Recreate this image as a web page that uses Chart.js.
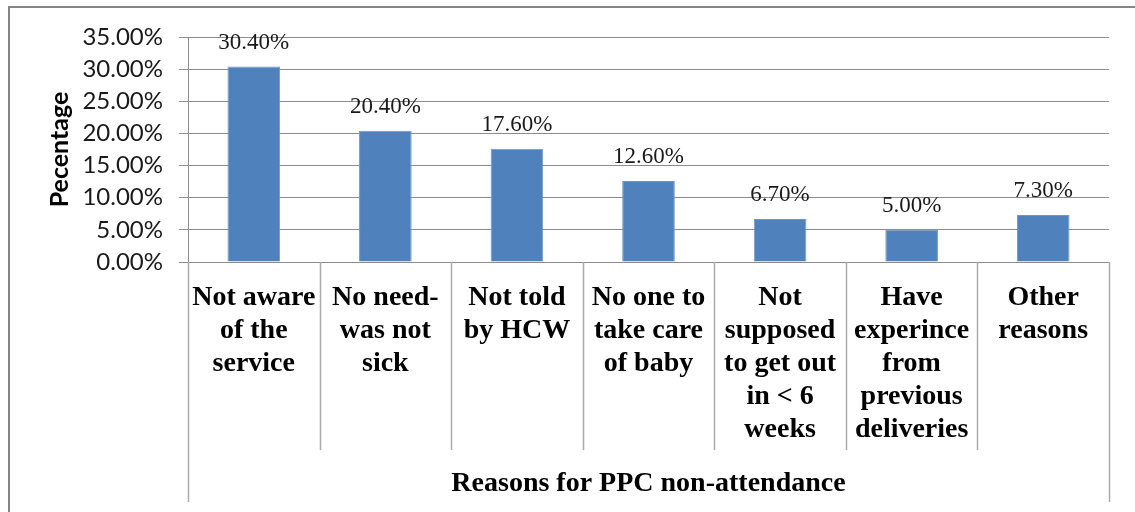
<!DOCTYPE html>
<html>
<head>
<meta charset="utf-8">
<script src="https://cdn.jsdelivr.net/npm/chart.js@4.4.1/dist/chart.umd.min.js"></script>
<style>
  html, body { margin: 0; padding: 0; background: #fff; }
  #wrap { position: relative; width: 1135px; height: 512px; overflow: hidden; }
  #frame {
    position: absolute; left: 8px; top: 6px; right: -10px; bottom: -10px;
    border-left: 2px solid #858585; border-top: 2px solid #858585;
  }
  #chart { position: absolute; left: 0; top: 0; }
</style>
</head>
<body>
<div id="wrap">
  <div id="frame"></div>
  <canvas id="chart" width="1135" height="512"></canvas>
</div>
<script>
const categories = [
  ['Not aware', 'of the', 'service'],
  ['No need-', 'was not', 'sick'],
  ['Not told', 'by HCW'],
  ['No one to', 'take care', 'of baby'],
  ['Not', 'supposed', 'to get out', 'in < 6', 'weeks'],
  ['Have', 'experince', 'from', 'previous', 'deliveries'],
  ['Other', 'reasons']
];
const values = [30.4, 20.4, 17.6, 12.6, 6.7, 5.0, 7.3];
const yTicks = [0, 5, 10, 15, 20, 25, 30, 35];

const fmt = v => v.toFixed(2) + '%';

// value labels above each bar
const barLabels = {
  id: 'barLabels',
  afterDatasetsDraw(chart) {
    const ctx = chart.ctx;
    const meta = chart.getDatasetMeta(0);
    ctx.save();
    ctx.font = '23px "Liberation Serif"';
    ctx.fillStyle = '#1a1a1a';
    ctx.textAlign = 'center';
    ctx.textBaseline = 'alphabetic';
    meta.data.forEach((bar, i) => {
      ctx.fillText(fmt(values[i]), bar.x, bar.y - 18);
    });
    ctx.restore();
  }
};

// category separators under the axis (Excel style)
const separators = {
  id: 'separators',
  afterDraw(chart) {
    const ctx = chart.ctx;
    const x = chart.scales.x;
    const n = categories.length;
    const w = (x.right - x.left) / n;
    ctx.save();
    ctx.strokeStyle = '#ababab';
    ctx.lineWidth = 1.5;
    for (let i = 0; i <= n; i++) {
      const px = Math.round(x.left + i * w) + 0.5;
      const end = (i === 0 || i === n) ? x.bottom - 10 : x.bottom - 62;
      ctx.beginPath();
      ctx.moveTo(px, chart.chartArea.bottom);
      ctx.lineTo(px, end);
      ctx.stroke();
    }
    ctx.restore();
  }
};

new Chart(document.getElementById('chart').getContext('2d'), {
  type: 'bar',
  data: {
    labels: categories,
    datasets: [{
      data: values,
      backgroundColor: '#4f81bd',
      borderColor: '#6f96c8',
      borderWidth: 1,
      barPercentage: 0.4,
      categoryPercentage: 1
    }]
  },
  options: {
    responsive: false,
    animation: false,
    layout: { padding: { top: 37, right: 26, bottom: 0, left: 0 } },
    plugins: {
      legend: { display: false },
      tooltip: { enabled: false }
    },
    scales: {
      x: {
        afterFit: s => { s.height = 250; },
        grid: { display: false, drawTicks: false },
        border: { display: false },
        ticks: {
          autoSkip: false,
          maxRotation: 0,
          minRotation: 0,
          padding: 19,
          color: '#000',
          font: { family: '"Liberation Serif"', size: 28, weight: 'bold', lineHeight: 1.18 }
        },
        title: {
          display: true,
          text: 'Reasons for PPC non-attendance',
          color: '#000',
          font: { family: '"Liberation Serif"', size: 28, weight: 'bold' },
          padding: { top: 0, bottom: 11 }
        }
      },
      y: {
        min: 0,
        max: 35,
        afterFit: s => { s.width = 188; },
        afterBuildTicks: s => { s.ticks = yTicks.map(v => ({ value: v })); },
        grid: { color: '#8c8c8c', lineWidth: 1, tickLength: 9 },
        border: { display: true, color: '#8c8c8c', width: 1 },
        ticks: {
          padding: 16,
          color: '#1a1a1a',
          font: { family: 'Lato', size: 24 },
          callback: v => fmt(v)
        },
        title: {
          display: true,
          text: 'Pecentage',
          color: '#000',
          font: { family: 'Lato', size: 25, weight: 'bold' },
          padding: { top: 45, bottom: 0 }
        }
      }
    }
  },
  plugins: [barLabels, separators]
});
</script>
</body>
</html>
